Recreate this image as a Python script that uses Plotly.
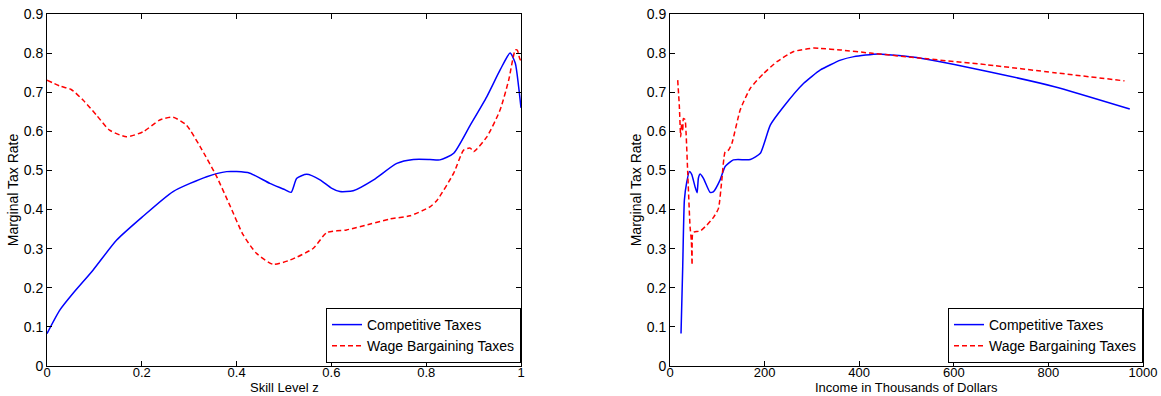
import plotly.graph_objects as go

# Left panel: skill level z
z_comp = [0, 0.027, 0.055, 0.097, 0.147, 0.2, 0.266, 0.337, 0.379, 0.4, 0.428, 0.47, 0.5, 0.515,
          0.527, 0.548, 0.576, 0.6, 0.618, 0.646, 0.689, 0.738, 0.773, 0.808, 0.829, 0.858, 0.893,
          0.928, 0.956, 0.977, 0.988, 0.995, 1.0]
t_comp_z = [0.083, 0.143, 0.186, 0.245, 0.322, 0.38, 0.446, 0.484, 0.497, 0.497, 0.493, 0.467, 0.452, 0.444,
            0.48, 0.49, 0.476, 0.455, 0.446, 0.448, 0.476, 0.518, 0.528, 0.528, 0.527, 0.544, 0.616,
            0.689, 0.757, 0.80, 0.774, 0.714, 0.66]

z_wage = [0, 0.027, 0.051, 0.076, 0.104, 0.132, 0.168, 0.203, 0.238, 0.266, 0.294, 0.323, 0.358,
          0.386, 0.414, 0.442, 0.477, 0.513, 0.562, 0.59, 0.632, 0.682, 0.724, 0.766, 0.808, 0.823,
          0.858, 0.879, 0.893, 0.9, 0.928, 0.956, 0.974, 0.988, 0.992, 0.997, 1.0]
t_wage_z = [0.731, 0.716, 0.707, 0.68, 0.642, 0.603, 0.586, 0.599, 0.629, 0.636, 0.616, 0.561, 0.484,
            0.41, 0.335, 0.288, 0.26, 0.271, 0.301, 0.341, 0.348, 0.363, 0.376, 0.384, 0.407, 0.424,
            0.493, 0.552, 0.557, 0.548, 0.586, 0.655, 0.731, 0.808, 0.808, 0.787, 0.78]

# Right panel: income in thousands of dollars
inc_comp = [23.3, 26.9, 30.4, 35.4, 41, 45.9, 53, 57.3, 60, 63.6, 70.7, 84.8, 92, 106, 116.6, 134,
            169.7, 191, 212, 240, 282.7, 318, 360.5, 389, 440, 530, 671.7, 813, 972]
t_comp_i = [0.083, 0.254, 0.424, 0.47, 0.497, 0.49, 0.458, 0.443, 0.48, 0.491, 0.48, 0.444, 0.446,
            0.476, 0.51, 0.527, 0.528, 0.544, 0.616, 0.663, 0.723, 0.757, 0.782, 0.791, 0.798, 0.787,
            0.753, 0.714, 0.657]

inc_wage = [16.3, 19.8, 22.6, 24.7, 26.9, 28.3, 31.8, 34, 37.5, 42.4, 45.2, 46.7, 48, 51.6, 63.6,
            77.8, 92, 102.5, 109.6, 116.6, 123.7, 130.8, 148.5, 169.7, 198, 226, 261.5, 304, 318,
            360.5, 424, 530, 671.7, 813, 961]
t_wage_i = [0.731, 0.663, 0.586, 0.62, 0.6, 0.633, 0.63, 0.595, 0.493, 0.356, 0.32, 0.258, 0.34,
            0.343, 0.345, 0.36, 0.38, 0.403, 0.476, 0.548, 0.552, 0.569, 0.655, 0.71, 0.748, 0.778,
            0.804, 0.813, 0.812, 0.808, 0.8, 0.787, 0.77, 0.75, 0.729]

y_ticks = [0, 0.1, 0.2, 0.3, 0.4, 0.5, 0.6, 0.7, 0.8, 0.9]
y_ticklabels = ["0", "0.1", "0.2", "0.3", "0.4", "0.5", "0.6", "0.7", "0.8", "0.9"]
z_ticks = [0, 0.2, 0.4, 0.6, 0.8, 1]
z_ticklabels = ["0", "0.2", "0.4", "0.6", "0.8", "1"]
inc_ticks = [0, 200, 400, 600, 800, 1000]
inc_ticklabels = ["0", "200", "400", "600", "800", "1000"]

names = ["Competitive Taxes", "Wage Bargaining Taxes"]
x_titles = ["Skill Level z", "Income in Thousands of Dollars"]
y_title = "Marginal Tax Rate"

BLUE = "#0000ff"
RED = "#ff0000"
FONT = "Liberation Sans, Arial, sans-serif"
FS = 14
FSX = 13

W, H = 1161, 396
ML, MR, MT, MB = 47, 18, 14, 30
PW = W - ML - MR
PH = H - MT - MB

fig = go.Figure()
fig.add_trace(go.Scatter(x=z_comp, y=t_comp_z, mode="lines", name=names[0],
                         line=dict(color=BLUE, width=1.5, shape="spline", smoothing=0.6),
                         xaxis="x", yaxis="y", legend="legend"))
fig.add_trace(go.Scatter(x=z_wage, y=t_wage_z, mode="lines", name=names[1],
                         line=dict(color=RED, width=1.5, dash="5px,3px", shape="spline", smoothing=0.6),
                         xaxis="x", yaxis="y", legend="legend"))
fig.add_trace(go.Scatter(x=inc_comp, y=t_comp_i, mode="lines", name=names[0],
                         line=dict(color=BLUE, width=1.5, shape="spline", smoothing=0.5),
                         xaxis="x2", yaxis="y2", legend="legend2"))
fig.add_trace(go.Scatter(x=inc_wage, y=t_wage_i, mode="lines", name=names[1],
                         line=dict(color=RED, width=1.5, dash="5px,3px", shape="spline", smoothing=0.5),
                         xaxis="x2", yaxis="y2", legend="legend2"))

axis_common = dict(showline=True, linecolor="black", linewidth=1, mirror="ticks",
                   ticks="inside", ticklen=5, tickcolor="black", showgrid=False, zeroline=False,
                   automargin=False)
ytick_font = dict(family=FONT, size=FS, color="black")
xtick_font = dict(family=FONT, size=FSX, color="black")

legend_common = dict(xanchor="right", yanchor="bottom", bgcolor="white", bordercolor="black",
                     borderwidth=1, font=dict(family=FONT, size=FS, color="black"),
                     tracegroupgap=0, itemwidth=30, traceorder="normal")

x1_dom = [0, (521 - ML) / PW]
x2_dom = [(670 - ML) / PW, 1]

fig.update_layout(
    width=W, height=H,
    margin=dict(l=ML, r=MR, t=MT, b=MB, autoexpand=False),
    paper_bgcolor="white", plot_bgcolor="white",
    font=dict(family=FONT, size=FS, color="black"),
    xaxis=dict(domain=x1_dom, range=[0, 1], tickvals=z_ticks, ticktext=z_ticklabels,
               ticklabelstandoff=-6, tickfont=xtick_font, anchor="y", **axis_common),
    yaxis=dict(domain=[0, 1], range=[0, 0.9], tickvals=y_ticks, ticktext=y_ticklabels,
               tickfont=ytick_font,
               title=dict(text=y_title, standoff=1, font=dict(size=FS)), anchor="x", **axis_common),
    xaxis2=dict(domain=x2_dom, range=[0, 1000], tickvals=inc_ticks, ticktext=inc_ticklabels,
                ticklabelstandoff=-6, tickfont=xtick_font, anchor="y2", **axis_common),
    yaxis2=dict(domain=[0, 1], range=[0, 0.9], tickvals=y_ticks, ticktext=y_ticklabels,
                tickfont=ytick_font,
                title=dict(text=y_title, standoff=1, font=dict(size=FS)), anchor="x2", **axis_common),
    legend=dict(x=x1_dom[1], y=(366 - 363) / PH, **legend_common),
    legend2=dict(x=1, y=(366 - 363) / PH, **legend_common),
    showlegend=True,
)

for dom, txt in zip([x1_dom, x2_dom], x_titles):
    fig.add_annotation(text=txt, xref="paper", yref="paper", x=(dom[0] + dom[1]) / 2,
                       y=-MB / PH, xanchor="center", yanchor="bottom", showarrow=False,
                       borderpad=0, font=dict(family=FONT, size=FSX, color="black"))

fig.write_html("out.html")
